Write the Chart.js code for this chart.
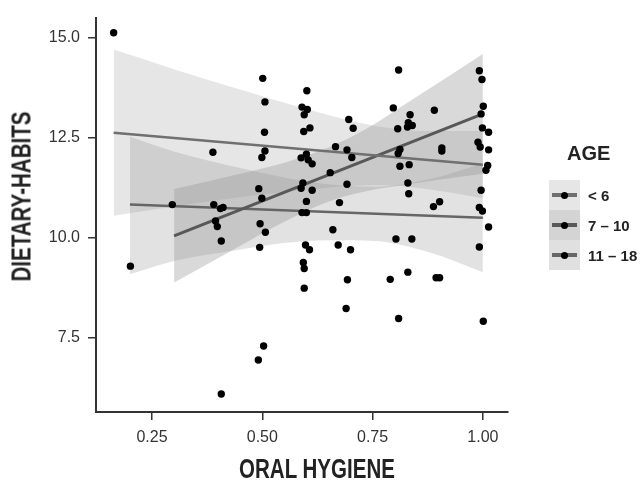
<!DOCTYPE html>
<html>
<head>
<meta charset="utf-8">
<script src="https://cdn.jsdelivr.net/npm/chart.js@4.4.1/dist/chart.umd.min.js"></script>
<style>
  html, body { margin: 0; padding: 0; background: #fff; }
  #wrap { position: relative; width: 641px; height: 480px; overflow: hidden; }
  #chart { position: absolute; left: 0; top: 0; }
  .axis-title { position: absolute; font-family: 'Liberation Sans', sans-serif; font-weight: bold;
    font-size: 27px; line-height: 27px; color: #222; text-align: center; white-space: nowrap; }
  #xTitle { left: 167px; top: 456px; width: 300px; transform: scaleX(0.76); }
  #yTitle { left: -98px; top: 183px; width: 240px; transform: rotate(-90deg) scaleX(0.76); }
  #legend { position: absolute; left: 549px; top: 140px; font-family: 'Liberation Sans', sans-serif; color: #222; }
  #legend .title { position: absolute; left: 18px; top: 2px; font-size: 20px; font-weight: bold; white-space: nowrap; }
  #legend .key { position: absolute; left: 0; width: 31px; height: 30px; }
  #legend .key .ln { position: absolute; left: 3px; width: 25px; }
  #legend .key .dot { position: absolute; left: 12px; width: 7px; height: 7px; border-radius: 50%; background: #000; }
  #legend .lab { position: absolute; left: 39px; font-size: 15px; font-weight: bold; white-space: nowrap; line-height: 30px; }
</style>
</head>
<body>
<div id="wrap">
  <canvas id="chart" width="641" height="480"></canvas>
  <div class="axis-title" id="xTitle">ORAL HYGIENE</div>
  <div class="axis-title" id="yTitle">DIETARY-HABITS</div>
  <div id="legend"></div>
</div>
<script>
// observations (all groups)
const oralHygiene = [0.163,0.388,0.296,0.390,0.405,0.411,0.394,0.398,0.407,0.201,
  0.407,0.495,0.507,0.494,0.598,0.607,0.593,0.595,0.595,0.503,
  0.491,0.600,0.675,0.590,0.600,0.660,0.672,0.700,0.693,0.690,
  0.888,0.902,0.992,0.999,1.013,0.992,0.803,0.839,0.790,0.830,
  0.894,0.902,0.809,1.001,0.501,0.601,0.506,0.590,0.602,0.595,
  0.696,0.706,0.608,0.594,0.505,0.666,0.692,0.703,0.506,0.499,
  0.588,0.600,0.604,0.613,0.654,0.592,0.588,0.613,0.492,0.499,
  0.692,0.809,0.992,0.998,0.797,0.890,0.835,1.001,0.996,0.831,
  0.840,0.829,0.807,0.999,1.013,0.989,0.994,1.013,0.812,0.808,
  0.907,0.907,0.812,0.833,1.011,1.007,0.830,0.832,0.996];
const dietaryHabits = [15.12,12.13,10.82,10.82,10.72,10.75,10.41,10.27,9.91,9.28,
  6.08,10.34,10.13,9.75,9.81,9.69,9.37,9.22,8.73,7.28,
  6.93,10.90,10.87,10.62,10.62,10.19,9.81,9.69,8.94,8.22,
  10.77,10.89,10.75,10.66,10.26,9.76,9.96,9.96,8.95,9.13,
  8.99,8.99,7.97,7.90,13.98,13.67,13.39,13.26,13.20,13.07,
  12.95,12.73,12.74,12.65,12.63,12.27,12.19,12.00,12.16,12.00,
  11.99,12.08,11.94,11.84,11.62,11.36,11.23,11.18,11.22,10.98,
  11.33,14.19,14.17,13.95,13.24,13.18,13.07,13.28,13.09,12.87,
  12.80,12.76,12.72,12.74,12.63,12.38,12.26,12.19,12.20,12.10,
  12.24,12.16,11.78,11.82,11.80,11.68,11.36,11.09,11.18];

const ageGroups = ['< 6', '7 – 10', '11 – 18'];

// fitted lines (x range and fitted y at both ends)
const fitUnder6X = [0.163, 1.0],  fitUnder6Y = [12.62, 11.82];
const fit7to10X = [0.3, 1.0],     fit7to10Y = [10.04, 13.09];
const fit11to18X = [0.2, 1.0],    fit11to18Y = [10.82, 10.49];

// confidence bands
const bandUnder6X  = [0.163, 0.3, 0.44, 0.6, 0.756, 0.88, 1.0];
const bandUnder6Lo = [10.54, 10.77, 10.99, 11.19, 11.31, 11.20, 10.98];
const bandUnder6Hi = [14.70, 14.21, 13.73, 13.21, 12.79, 12.66, 12.66];
const band7to10X  = [0.3, 0.44, 0.55, 0.65, 0.73, 0.85, 1.0];
const band7to10Lo = [8.87, 9.73, 10.39, 10.89, 11.14, 11.36, 11.59];
const band7to10Hi = [11.21, 11.57, 11.87, 12.25, 12.68, 13.52, 14.59];
const band11to18X  = [0.2, 0.3, 0.44, 0.55, 0.65, 0.756, 0.88, 1.0];
const band11to18Lo = [9.08, 9.41, 9.68, 9.86, 9.93, 9.91, 9.62, 9.13];
const band11to18Hi = [12.52, 12.15, 11.76, 11.50, 11.33, 11.27, 11.46, 11.85];

const xTicks = [0.25, 0.5, 0.75, 1.0];
const yTicks = [7.5, 10.0, 12.5, 15.0];

const bandFill = ['rgba(150,150,150,0.24)', 'rgba(150,150,150,0.36)', 'rgba(150,150,150,0.28)'];
const lineColor = ['#707070', '#585858', '#666666'];
const lineWidth = [2.5, 3, 2.5];

const zip = (xs, ys) => xs.map((x, i) => ({ x, y: ys[i] }));

function bandSets(xs, lo, hi, fill) {
  const edge = { type: 'line', borderWidth: 0, pointRadius: 0, tension: 0.4,
    cubicInterpolationMode: 'monotone', order: 3 };
  return [
    Object.assign({ label: 'hi', data: zip(xs, hi), fill: false }, edge),
    Object.assign({ label: 'lo', data: zip(xs, lo), fill: '-1', backgroundColor: fill }, edge)
  ];
}
function fitSet(xs, ys, i) {
  return { type: 'line', label: ageGroups[i], data: zip(xs, ys), borderColor: lineColor[i],
    borderWidth: lineWidth[i], pointRadius: 0, fill: false, order: 2 };
}

Chart.defaults.font.family = "'Liberation Sans', sans-serif";

const ctx = document.getElementById('chart').getContext('2d');
const chart = new Chart(ctx, {
  type: 'scatter',
  data: {
    datasets: [
      { label: 'obs', data: zip(oralHygiene, dietaryHabits), backgroundColor: '#000', borderWidth: 0,
        pointRadius: 3.7, order: 1 },
      fitSet(fitUnder6X, fitUnder6Y, 0),
      fitSet(fit7to10X, fit7to10Y, 1),
      fitSet(fit11to18X, fit11to18Y, 2),
      ...bandSets(bandUnder6X, bandUnder6Lo, bandUnder6Hi, bandFill[0]),
      ...bandSets(band7to10X, band7to10Lo, band7to10Hi, bandFill[1]),
      ...bandSets(band11to18X, band11to18Lo, band11to18Hi, bandFill[2])
    ]
  },
  options: {
    responsive: false,
    animation: false,
    layout: { padding: { top: 13, right: 133, left: 0, bottom: 0 } },
    plugins: { legend: { display: false }, tooltip: { enabled: false } },
    scales: {
      x: {
        type: 'linear', min: 0.123, max: 1.057,
        afterBuildTicks: s => { s.ticks = xTicks.map(v => ({ value: v })); },
        afterFit: s => { s.height = 68; },
        ticks: { callback: v => v.toFixed(2), color: '#333', font: { size: 16 }, padding: 8, maxRotation: 0 },
        grid: { drawOnChartArea: false, drawTicks: true, tickLength: 8, color: '#333', lineWidth: 1.5 },
        border: { display: true, color: '#333', width: 2 }
      },
      y: {
        type: 'linear', min: 5.63, max: 15.5,
        afterBuildTicks: s => { s.ticks = yTicks.map(v => ({ value: v })); },
        afterFit: s => { s.width = 96; },
        ticks: { callback: v => v.toFixed(1), color: '#333', font: { size: 16 }, padding: 8 },
        grid: { drawOnChartArea: false, drawTicks: true, tickLength: 8, color: '#333', lineWidth: 1.5 },
        border: { display: true, color: '#333', width: 2 }
      }
    }
  }
});

// legend (ggplot style keys)
const keyBg = ['#e6e6e6', '#d4d4d4', '#e0e0e0'];
const legend = document.getElementById('legend');
legend.innerHTML = '<div class="title">AGE</div>' + ageGroups.map((g, i) => {
  const top = 40 + i * 30;
  const lw = lineWidth[i] + 1;
  return `<div class="key" style="top:${top}px;background:${keyBg[i]}">
      <div class="ln" style="top:${15 - lw / 2}px;height:${lw}px;background:${lineColor[i]}"></div>
      <div class="dot" style="top:11.5px"></div></div>
    <div class="lab" style="top:${top + 1}px">${g}</div>`;
}).join('');
</script>
</body>
</html>
